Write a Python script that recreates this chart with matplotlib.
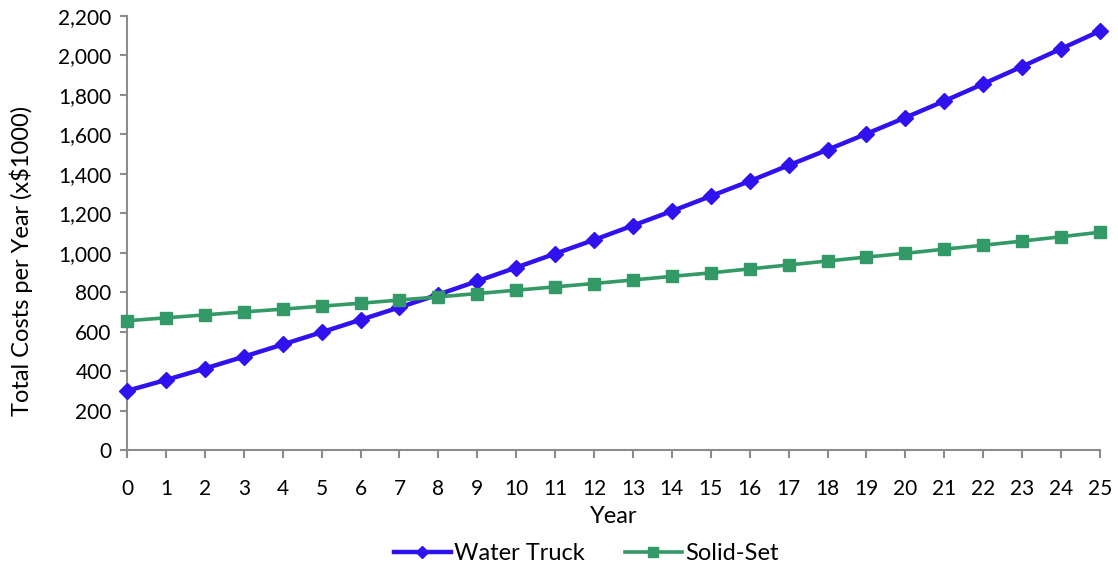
import matplotlib
matplotlib.use("Agg")
import matplotlib.pyplot as plt
from matplotlib.ticker import FuncFormatter

# Annual cost figures (x $1000)
years = list(range(26))
water_truck = [300, 355, 413, 473, 535, 597, 660, 723, 788, 856,
               925, 995, 1065, 1138, 1211, 1287, 1363, 1443, 1522, 1603,
               1685, 1769, 1856, 1944, 2034, 2124]
solid_set = [655, 670, 685, 700, 714, 729, 744, 760, 776, 793,
             810, 827, 844, 862, 880, 898, 918, 938, 958, 978,
             997, 1018, 1038, 1059, 1081, 1104]

plt.rcParams['font.family'] = ['Lato', 'DejaVu Sans']

fig = plt.figure(figsize=(11.18, 5.66), dpi=100)
ax = fig.add_axes([127 / 1118, 1 - 450 / 566, (1100 - 127) / 1118, (450 - 16) / 566])

ax.plot(years, water_truck, color='#2f12ee', lw=3.2, marker='D', ms=8,
        label='Water Truck', clip_on=False, zorder=3)
ax.plot(years, solid_set, color='#339966', lw=2.6, marker='s', ms=9,
        label='Solid-Set', clip_on=False, zorder=3)

ax.set_xlim(0, 25)
ax.set_ylim(0, 2200)
ax.set_xticks(years)
ax.set_yticks(range(0, 2201, 200))
ax.yaxis.set_major_formatter(FuncFormatter(lambda v, p: f'{int(v):,}'))

for side in ('top', 'right'):
    ax.spines[side].set_visible(False)
for side in ('left', 'bottom'):
    ax.spines[side].set_color('#8c8c8c')
    ax.spines[side].set_linewidth(1.5)
ax.tick_params(axis='both', colors='#8c8c8c', width=1.5,
               labelsize=15, labelcolor='black')
ax.tick_params(axis='x', length=6, pad=15)
ax.tick_params(axis='y', length=5, pad=6)

ax.set_xlabel('Year', fontsize=17, labelpad=5)
ax.set_ylabel('Total Costs per Year (x$1000)', fontsize=17)
ax.yaxis.set_label_coords(-0.097, 0.435)

ax.legend(loc='upper center', bbox_to_anchor=(0.472, -0.165), ncol=2,
          frameon=False, fontsize=17, handlelength=2.4, columnspacing=1.7,
          handletextpad=0.15, markerscale=0.75)

fig.savefig('out.png', dpi=100)
